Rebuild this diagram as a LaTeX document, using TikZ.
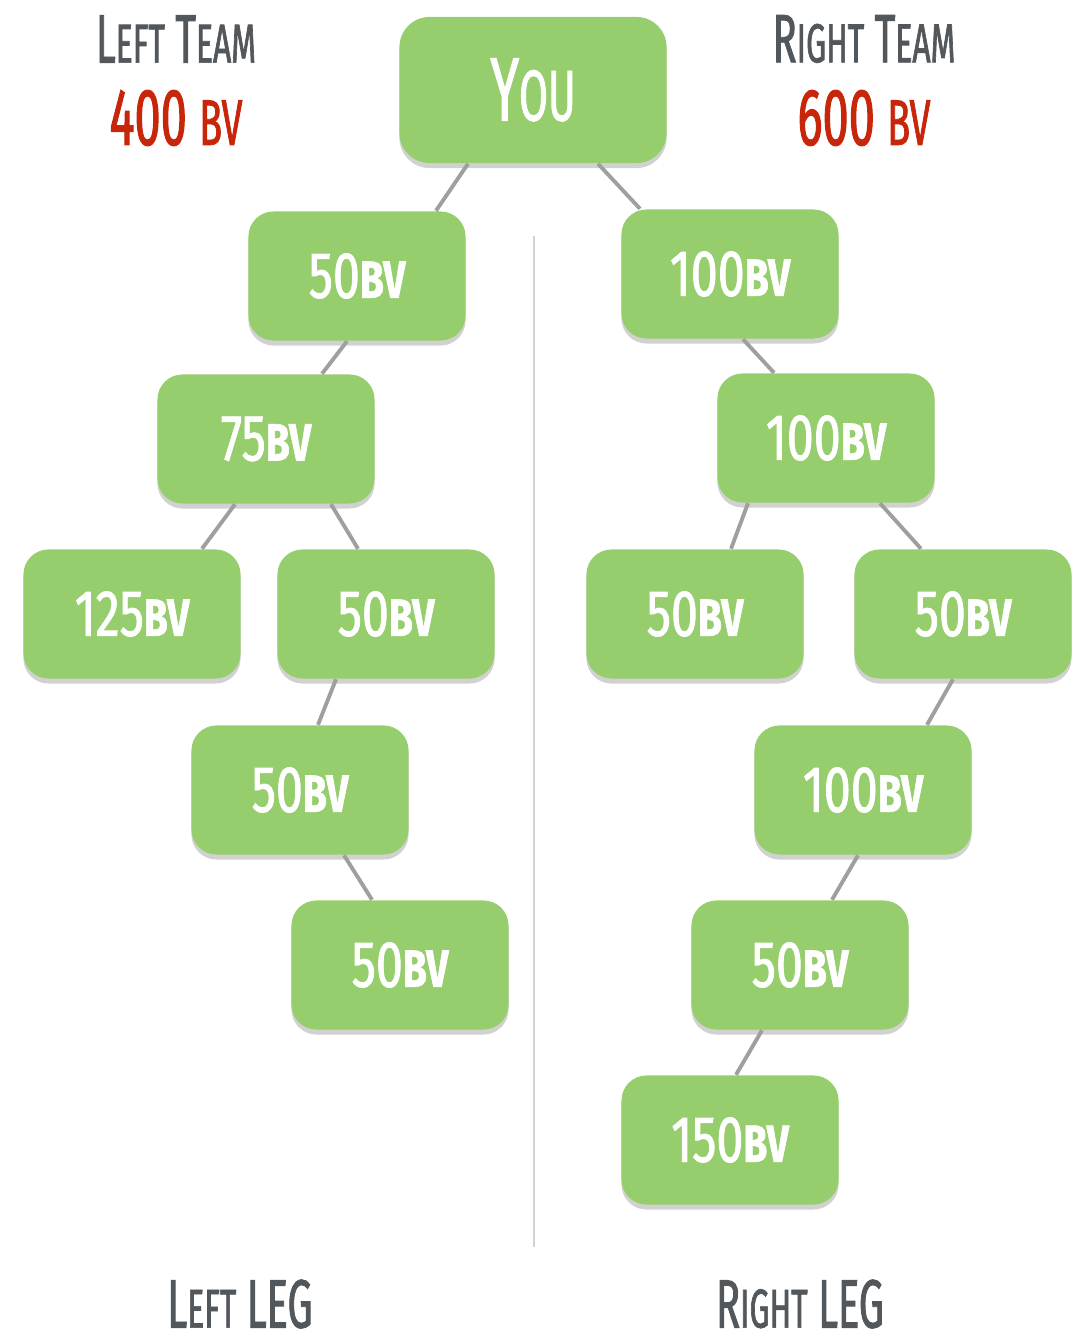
\documentclass[tikz,border=0pt]{standalone}
\usepackage{fontspec}
\setmainfont{Fira Sans}[FakeStretch=0.58, FakeBold=1.2]
\newfontfamily\scatola{Fira Sans}[FakeStretch=0.74, FakeBold=1.2]
\usetikzlibrary{shadows,calc}

\definecolor{verde}{RGB}{150,206,110}
\definecolor{rosso}{RGB}{200,38,10}
\definecolor{grigio}{RGB}{82,87,92}
\newcommand\picc[1]{\scalebox{0.8}{#1}} % maiuscoletto finto

\begin{document}
\begin{tikzpicture}[x=0.01cm,y=-0.01cm,
  box/.style={fill=verde, rounded corners=0.25cm, minimum width=2.17cm, minimum height=1.29cm,
    text=white, font=\scatola\fontsize{18.6}{20}\selectfont,
    drop shadow={shadow xshift=0cm, shadow yshift=-0.05cm, opacity=0.18, fill=black}},
  link/.style={draw=gray!75, line width=1.1pt},
  titolo/.style={text=grigio, inner sep=0pt, font=\fontsize{19.5}{21}\selectfont},
  punti/.style={text=rosso, inner sep=0pt, font=\fontsize{23}{25}\selectfont}]

\useasboundingbox (0,0) rectangle (1086,1340);

% Titoli
\node[titolo] (tl) at (176,39) {L\picc{EFT} T\picc{EAM}};
\node[punti] (pl) at (176,118) {400 \picc{BV}};
\node[titolo] (tr) at (864,39) {R\picc{IGHT} T\picc{EAM}};
\node[punti] (pr) at (864,118) {600 \picc{BV}};

% Separatore
\coordinate (s1) at (534,236);
\coordinate (s2) at (534,1247);
\draw[gray!35, line width=0.6pt] (s1) -- (s2);

% Radice
\node[box, minimum width=2.67cm, minimum height=1.46cm, rounded corners=0.3cm,
  font=\fontsize{25.6}{27}\selectfont] (you) at (533,90) {Y\picc{OU}};

% Gamba sinistra
\node[box] (l1) at (357,276) {50\picc{\bfseries BV}};
\node[box] (l2) at (266,439) {75\picc{\bfseries BV}};
\node[box] (l3a) at (132,614) {125\picc{\bfseries BV}};
\node[box] (l3b) at (386,614) {50\picc{\bfseries BV}};
\node[box] (l4) at (300,790) {50\picc{\bfseries BV}};
\node[box] (l5) at (400,965) {50\picc{\bfseries BV}};

% Gamba destra
\node[box] (r1) at (730,274) {100\picc{\bfseries BV}};
\node[box] (r2) at (826,438) {100\picc{\bfseries BV}};
\node[box] (r3a) at (695,614) {50\picc{\bfseries BV}};
\node[box] (r3b) at (963,614) {50\picc{\bfseries BV}};
\node[box] (r4) at (863,790) {100\picc{\bfseries BV}};
\node[box] (r5) at (800,965) {50\picc{\bfseries BV}};
\node[box] (r6) at (730,1140) {150\picc{\bfseries BV}};

% Collegamenti
\foreach \a/\da/\b/\db in {you/-65/l1/79, you/65/r1/-90, l1/-10/l2/56, l2/-31/l3a/70,
  l2/65/l3b/-28, l3b/-50/l4/18, l4/44/l5/-28, r1/13/r2/-52, r2/-78/r3a/36,
  r2/54/r3b/-42, r3b/-10/r4/64, r4/-5/r5/32, r5/-38/r6/6}
  \draw[link] ($(\a.south)+(\da,0)$) -- ($(\b.north)+(\db,0)$);

% Etichette in basso
\node[titolo] (gl) at (240,1304) {L\picc{EFT} LEG};
\node[titolo] (gr) at (800,1304) {R\picc{IGHT} LEG};

\end{tikzpicture}
\end{document}
